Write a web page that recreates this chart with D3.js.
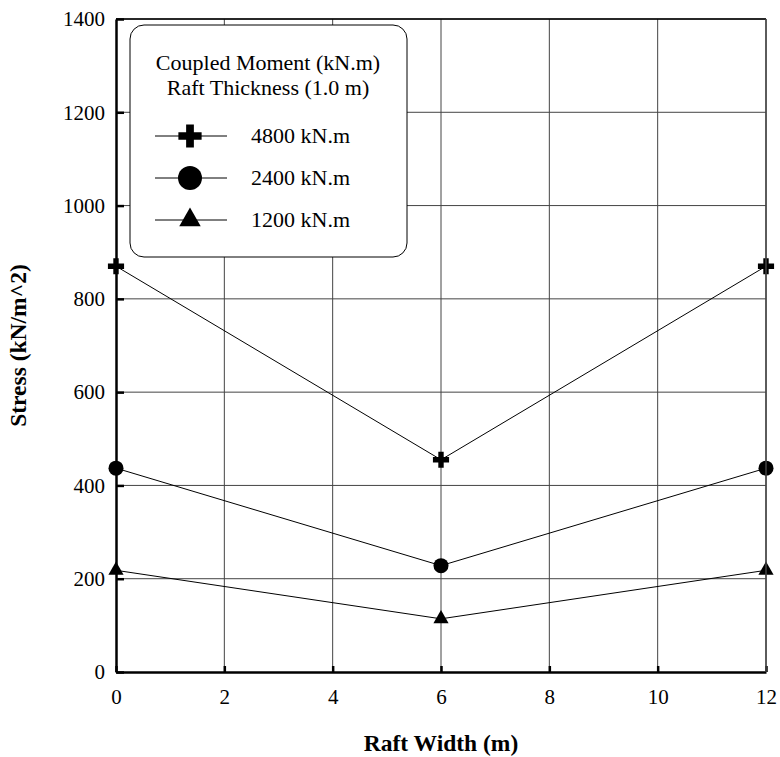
<!DOCTYPE html>
<html>
<head>
<meta charset="utf-8">
<script src="https://cdn.jsdelivr.net/npm/d3@7"></script>
<style>
  body { margin: 0; background: #fff; }
  svg text { font-family: "Liberation Serif", "Times New Roman", serif; }
</style>
</head>
<body>
<div id="chart"></div>
<script>
// Data
const widths = [0, 6, 12];
const stress4800 = [870, 455, 870];
const stress2400 = [437, 228, 437];
const stress1200 = [218, 114, 218];
const seriesNames = ["4800 kN.m", "2400 kN.m", "1200 kN.m"];
const seriesMarkers = ["cross", "circle", "triangle"];
const xTicks = [0, 2, 4, 6, 8, 10, 12];
const yTicks = [0, 200, 400, 600, 800, 1000, 1200, 1400];
const legendTitle = ["Coupled Moment (kN.m)", "Raft Thickness (1.0 m)"];

// SVG setup
let svgWidth = 780;
let svgHeight = 757;
let margin = { top: 19, bottom: 85, left: 116, right: 14 };
let width = svgWidth - margin.left - margin.right;
let height = svgHeight - margin.top - margin.bottom;

let svg = d3.select("#chart")
    .append("svg")
    .attr("width", svgWidth)
    .attr("height", svgHeight);

let chartGroup = svg.append("g")
    .attr("transform", `translate(${margin.left},${margin.top})`);

let xScale = d3.scaleLinear().domain([0, 12]).range([0, width]);
let yScale = d3.scaleLinear().domain([0, 1400]).range([height, 0]);

// gridlines
chartGroup.append("g")
    .selectAll("line")
    .data(xTicks.slice(1))
    .enter()
    .append("line")
    .attr("x1", d => xScale(d)).attr("x2", d => xScale(d))
    .attr("y1", 0).attr("y2", height)
    .attr("stroke", "#444").attr("stroke-width", 1);
chartGroup.append("g")
    .selectAll("line")
    .data(yTicks.slice(1))
    .enter()
    .append("line")
    .attr("x1", 0).attr("x2", width)
    .attr("y1", d => yScale(d)).attr("y2", d => yScale(d))
    .attr("stroke", "#444").attr("stroke-width", 1);

// axes with inward ticks
let bottomAxis = d3.axisBottom(xScale).tickValues(xTicks).tickFormat(d3.format("d"))
    .tickSizeInner(-6).tickSizeOuter(0).tickPadding(17);
let leftAxis = d3.axisLeft(yScale).tickValues(yTicks).tickFormat(d3.format("d"))
    .tickSizeInner(-8).tickSizeOuter(0).tickPadding(11);

let xAxisG = chartGroup.append("g")
    .attr("transform", `translate(0,${height})`)
    .call(bottomAxis);
let yAxisG = chartGroup.append("g")
    .call(leftAxis);

[xAxisG, yAxisG].forEach(g => {
    g.attr("font-family", null).attr("font-size", null);
    g.select(".domain").attr("stroke", "#000").attr("stroke-width", 2.5);
    g.selectAll(".tick line").attr("stroke", "#000").attr("stroke-width", 2.5);
    g.selectAll(".tick text")
        .style("font-family", "'Liberation Serif', serif")
        .style("font-size", "21px")
        .attr("fill", "#000");
});

// series
let allSeries = [stress4800, stress2400, stress1200];
let line = d3.line()
    .x((d, i) => xScale(widths[i]))
    .y(d => yScale(d));

function drawMarker(g, type, cx, cy, big) {
    if (type === "cross") {
        g.append("path")
            .attr("d", d3.symbol().type(d3.symbolCross).size(big ? 300 : 145)())
            .attr("transform", `translate(${cx},${cy})`)
            .attr("fill", "#000");
    } else if (type === "circle") {
        g.append("circle")
            .attr("cx", cx).attr("cy", cy).attr("r", big ? 12 : 7.5)
            .attr("fill", "#000");
    } else {
        g.append("path")
            .attr("d", d3.symbol().type(d3.symbolTriangle).size(big ? 200 : 100)())
            .attr("transform", `translate(${cx},${cy})`)
            .attr("fill", "#000");
    }
}

allSeries.forEach((vals, s) => {
    chartGroup.append("path")
        .datum(vals)
        .attr("d", line)
        .attr("fill", "none")
        .attr("stroke", "#000")
        .attr("stroke-width", 1);
});
allSeries.forEach((vals, s) => {
    vals.forEach((v, i) => drawMarker(chartGroup, seriesMarkers[s], xScale(widths[i]), yScale(v), false));
});

// frame top/right
chartGroup.append("line")
    .attr("x1", 0).attr("x2", width).attr("y1", 0).attr("y2", 0)
    .attr("stroke", "#000").attr("stroke-width", 1.5);
chartGroup.append("line")
    .attr("x1", width).attr("x2", width).attr("y1", 0).attr("y2", height)
    .attr("stroke", "#444").attr("stroke-width", 1.5);

// legend
let legend = svg.append("g");
legend.append("rect")
    .attr("x", 130).attr("y", 25)
    .attr("width", 277).attr("height", 232)
    .attr("rx", 14).attr("ry", 14)
    .attr("fill", "#fff")
    .attr("stroke", "#000")
    .attr("stroke-width", 1);
legendTitle.forEach((t, i) => {
    legend.append("text")
        .attr("x", 268)
        .attr("y", 70 + i * 25)
        .attr("text-anchor", "middle")
        .style("font-size", "22px")
        .text(t);
});
seriesNames.forEach((name, i) => {
    let ly = 136 + i * 42;
    legend.append("line")
        .attr("x1", 155).attr("x2", 227)
        .attr("y1", ly).attr("y2", ly)
        .attr("stroke", "#000").attr("stroke-width", 1);
    drawMarker(legend, seriesMarkers[i], 190, ly, true);
    legend.append("text")
        .attr("x", 251)
        .attr("y", ly + 7)
        .style("font-size", "22px")
        .text(name);
});

// axis titles
svg.append("text")
    .attr("transform", `translate(${margin.left + width / 2}, 751)`)
    .attr("text-anchor", "middle")
    .style("font-size", "23.5px")
    .attr("font-weight", "bold")
    .text("Raft Width (m)");
svg.append("text")
    .attr("transform", `translate(26, ${margin.top + height / 2}) rotate(-90)`)
    .attr("text-anchor", "middle")
    .style("font-size", "23.5px")
    .attr("font-weight", "bold")
    .text("Stress (kN/m^2)");
</script>
</body>
</html>
